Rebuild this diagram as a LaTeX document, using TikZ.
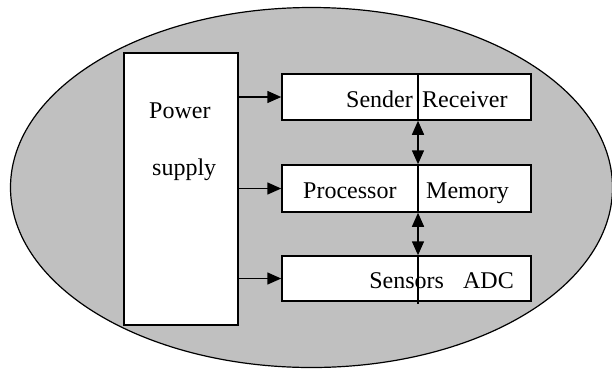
\documentclass[tikz,border=0pt]{standalone}
\usepackage{fontspec}
\setmainfont{Liberation Serif}
\usetikzlibrary{arrows.meta}
\begin{document}
\begin{tikzpicture}[x=1pt,y=-1pt,
  box/.style={draw,line width=1.5pt,fill=white,inner sep=0pt},
  lbl/.style={inner sep=0pt,font=\fontsize{24}{28}\selectfont},
  conn/.style={line width=1.5pt,-{Triangle[length=14pt,width=12pt]}},
  bconn/.style={line width=1.5pt,{Triangle[length=14pt,width=12pt]}-{Triangle[length=14pt,width=12pt]}},
  divl/.style={line width=1.5pt}]
\useasboundingbox (0,0) rectangle (612,368);
\clip (0,0) rectangle (612,368);
\draw[fill={rgb,255:red,192;green,192;blue,192},line width=1.2pt] (311.5,187.5) ellipse [x radius=301, y radius=180];
\node[box,minimum width=114pt,minimum height=272pt] (power) at (181,189) {};
\node[box,minimum width=249pt,minimum height=46pt] (sender) at (406.5,97) {};
\node[box,minimum width=249pt,minimum height=47pt] (proc) at (406.5,188.5) {};
\node[box,minimum width=249pt,minimum height=45pt] (sens) at (406.5,278.5) {};
\coordinate (divx) at (418,0);
\node[lbl,anchor=base west] (tpower) at (149,118) {Power};
\node[lbl,anchor=base west] (tsupply) at (152,175) {supply};
\node[lbl,anchor=base east] (tsender) at (413,107) {Sender};
\node[lbl,anchor=base west] (trecv) at (422,107) {Receiver};
\node[lbl,anchor=base west] (tproc) at (303,198) {Processor};
\node[lbl,anchor=base west] (tmem) at (426,198) {Memory};
\node[lbl,anchor=base east] (tsens) at (514,288) {Sensors\hspace{0.8em}ADC};
\draw[divl] (sender.north -| divx) -- (sender.south -| divx);
\draw[divl] (proc.north -| divx) -- (proc.south -| divx);
\draw[divl] (sens.north -| divx) -- ([yshift=-2pt]sens.south -| divx);
\draw[conn] (power.east |- sender.west) -- (sender.west);
\draw[conn] (power.east |- proc.west) -- (proc.west);
\draw[conn] (power.east |- sens.west) -- (sens.west);
\draw[bconn] (sender.south -| divx) -- (proc.north -| divx);
\draw[bconn] (proc.south -| divx) -- (sens.north -| divx);
\end{tikzpicture}
\end{document}
